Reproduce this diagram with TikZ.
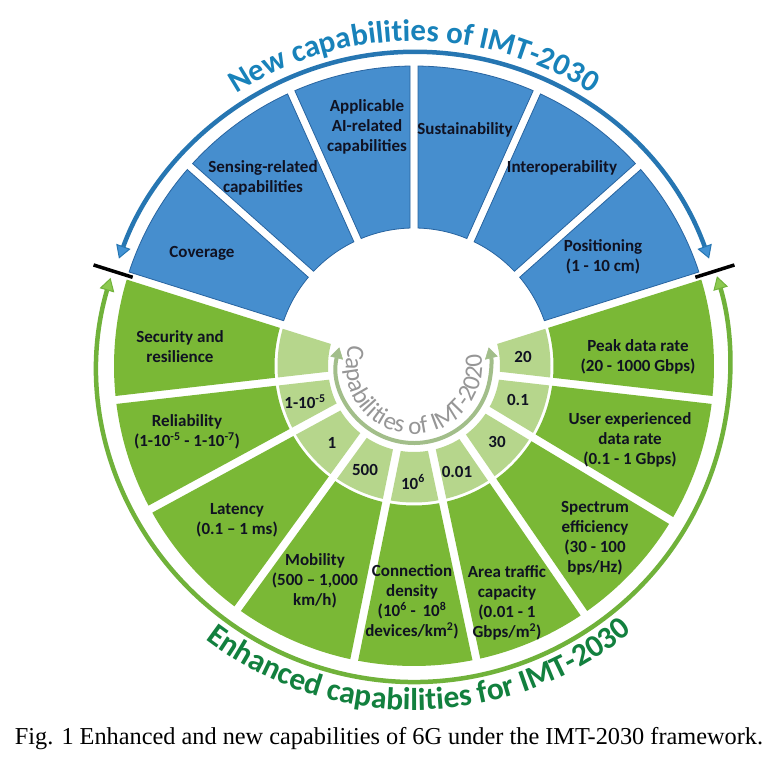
\documentclass[tikz,border=0pt]{standalone}
\usepackage{fontspec}
\setmainfont{Carlito}
\newfontfamily\capfont{Liberation Serif}
\usetikzlibrary{arrows.meta,decorations.text}
\definecolor{bluecell}{RGB}{70,142,206}
\definecolor{blueedge}{RGB}{40,100,160}
\definecolor{bluearr}{RGB}{38,118,178}
\definecolor{bluetip}{RGB}{66,146,212}
\definecolor{bluetxt}{RGB}{24,130,186}
\definecolor{greencell}{RGB}{122,184,54}
\definecolor{lightcell}{RGB}{182,214,140}
\definecolor{greenarr}{RGB}{112,178,58}
\definecolor{greentip}{RGB}{140,200,80}
\definecolor{greentxt}{RGB}{18,128,62}
\definecolor{grayarc}{RGB}{162,190,138}
\definecolor{graytxt}{RGB}{150,150,150}
\definecolor{celltxt}{RGB}{16,18,34}
\newcommand\wedgecell[5]{%
  \path[#5] ({#1+asin(4/#3)}:#3) arc[start angle={#1+asin(4/#3)}, end angle={#2-asin(4/#3)}, radius=#3]
    -- ({#2-asin(4/#4)}:#4) arc[start angle={#2-asin(4/#4)}, end angle={#1+asin(4/#4)}, radius=#4] -- cycle;}
\tikzset{
  celltext/.style={font=\fontsize{17}{20}\selectfont\bfseries, text=celltxt, align=center, inner sep=0pt},
  bluecellstyle/.style={fill=bluecell, draw=blueedge, line width=0.8pt},
  darkcellstyle/.style={fill=greencell},
  lightcellstyle/.style={fill=lightcell},
  bluearc/.style={draw=bluearr, line width=4.5pt,
    {Triangle[length=13pt,width=15pt,fill=bluetip,line width=1pt]}-{Triangle[length=13pt,width=15pt,fill=bluetip,line width=1pt]}},
  greenarc/.style={draw=greenarr, line width=4.5pt,
    {Triangle[length=13pt,width=15pt,fill=greentip,line width=1pt]}-{Triangle[length=13pt,width=15pt,fill=greentip,line width=1pt]}},
  grayarcstyle/.style={draw=grayarc, line width=4pt,
    {Triangle[length=11pt,width=13pt,fill=grayarc,line width=0.5pt]}-{Triangle[length=11pt,width=13pt,fill=grayarc,line width=0.5pt]}},
  tick/.style={draw=black, line width=3.5pt}
}
\begin{document}
\begin{tikzpicture}[x=1pt,y=1pt]
\useasboundingbox (0,0) rectangle (768,775);
\fill[white] (0,0) rectangle (768,775);
\begin{scope}[shift={(414,409)}]
  % blue cells
  \foreach \a/\b in {17.5/41.67, 41.67/65.83, 65.83/90, 90/114.17, 114.17/138.33, 138.33/162.5}
    {\wedgecell{\a}{\b}{138}{300}{bluecellstyle}}
  % green cells
  \foreach \a/\b in {162.5/186.5, 186.5/208.5, 208.5/234, 234/258.5, 258.5/282, 282/304.5, 304.5/329, 329/353.5, 353.5/377.5}
    {\wedgecell{\a}{\b}{139.5}{300}{darkcellstyle}
     \wedgecell{\a}{\b}{86}{136.5}{lightcellstyle}}
  % arrows
  \draw[bluearc] (20:314) arc[start angle=20, end angle=160, radius=314];
  \draw[greenarc] (163.8:316) arc[start angle=163.8, end angle=376.5, radius=316];
  \draw[grayarcstyle] (166:77) arc[start angle=166, end angle=374, radius=77];
  % ticks
  \draw[tick] (162.5:295) -- (162.5:336);
  \draw[tick] (17.5:295) -- (17.5:336);
  % curved titles
  \path[decorate, decoration={text along path, text align=center, text color=bluetxt,
     text={|\fontsize{31}{31}\selectfont\bfseries|New capabilities of IMT-2030}}]
     (160:325) arc[start angle=160, end angle=20, radius=325];
  \path[decorate, decoration={text along path, text align=center, text color=greentxt,
     text={|\fontsize{31.5}{31.5}\selectfont\bfseries|Enhanced capabilities for IMT-2030}}]
     (195:344) arc[start angle=195, end angle=347, radius=344];
  \path[decorate, decoration={text along path, text align=center, text color=graytxt,
     text={|\fontsize{25}{25}\selectfont|Capabilities of IMT-2020}}]
     (146:68) arc[start angle=146, end angle=386, radius=68];
\end{scope}
% blue cell labels
\node[celltext] (cov) at (202,522) {Coverage};
\node[celltext] (sens) at (263,597) {Sensing-related\\capabilities};
\node[celltext] (ai) at (367,648) {Applicable\\AI-related\\capabilities};
\node[celltext] (sus) at (465,645) {Sustainability};
\node[celltext] (inter) at (562,607) {Interoperability};
\node[celltext] (pos) at (603,518) {Positioning\\(1 - 10 cm)};
% green cell labels
\node[celltext] (sec) at (180,428) {Security and\\resilience};
\node[celltext] (rel) at (187,343) {Reliability\\(1-10\textsuperscript{-5} - 1-10\textsuperscript{-7})};
\node[celltext] (lat) at (237,255) {Latency\\(0.1 – 1 ms)};
\node[celltext] (mob) at (315,194) {Mobility\\(500 – 1,000\\km/h)};
\node[celltext] (con) at (412,173) {Connection\\density\\(10\textsuperscript{6} - \,10\textsuperscript{8}\\devices/km\textsuperscript{2})};
\node[celltext] (area) at (507,172) {Area traffic\\capacity\\(0.01 - 1\\Gbps/m\textsuperscript{2})};
\node[celltext] (spec) at (595,237) {Spectrum\\efficiency\\(30 - 100\\bps/Hz)};
\node[celltext] (user) at (630,335) {User experienced\\data rate\\(0.1 - 1 Gbps)};
\node[celltext] (peak) at (638,418) {Peak data rate\\(20 - 1000 Gbps)};
% light cell labels
\node[celltext] (l1) at (305,373) {1-10\textsuperscript{-5}};
\node[celltext] (l2) at (332,332) {1};
\node[celltext] (l3) at (365,305) {500};
\node[celltext] (l4) at (413,293) {10\textsuperscript{6}};
\node[celltext] (l5) at (457,303) {0.01};
\node[celltext] (l6) at (497,333) {30};
\node[celltext] (l7) at (518,375) {0.1};
\node[celltext] (l8) at (523,418) {20};
% caption
\node[inner sep=0pt] (cap) at (389,36) {\capfont\fontsize{24.3}{28}\selectfont Fig. 1 Enhanced and new capabilities of 6G under the IMT-2030 framework.};
\end{tikzpicture}
\end{document}
